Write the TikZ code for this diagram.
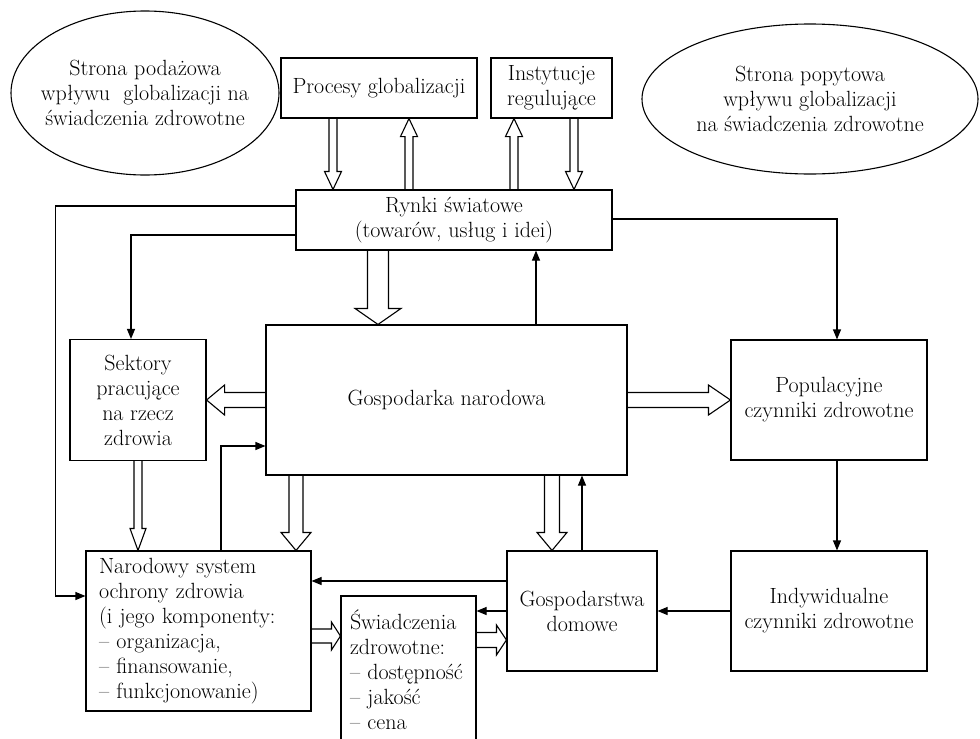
\documentclass[tikz,border=0pt]{standalone}
\usepackage{tikz}
\usetikzlibrary{positioning,calc,arrows.meta}

% hollow block arrow: from, to, shaft half width, head half width, head length
\newcommand{\fatarrow}[5]{%
	\coordinate (fa-s) at (#1);
	\coordinate (fa-t) at (#2);
	\coordinate (fa-b) at ($(fa-t)!#5!(fa-s)$);
	\draw[fat] ($(fa-s)!#3!90:(fa-t)$) -- ($(fa-b)!#3!90:(fa-t)$) -- ($(fa-b)!#4!90:(fa-t)$) -- (fa-t)
		-- ($(fa-b)!#4!-90:(fa-t)$) -- ($(fa-b)!#3!-90:(fa-t)$) -- ($(fa-s)!#3!-90:(fa-t)$);
}

\begin{document}
\begin{tikzpicture}[x=1pt,y=-1pt,on grid,
		font=\fontsize{22}{25}\selectfont,
		box/.style={draw,line width=1.1pt,align=center,inner sep=2pt},
		link/.style={line width=1.1pt,-{Triangle[length=10pt,width=8pt]}},
		fat/.style={line width=1.1pt,line join=miter}]
	\useasboundingbox (0,0) rectangle (980,739);
	
	\node[box,minimum width=361pt,minimum height=150pt] (gosp) at (446.5,400) {Gospodarka narodowa};
	\node[box,minimum width=316pt,minimum height=60pt] (rynki) [above right=180pt and 7.5pt of gosp] {Rynki światowe\\(towarów, usług i idei)};
	\node[box,minimum width=196pt,minimum height=60pt] (proc) [above left=132pt and 75pt of rynki] {Procesy globalizacji};
	\node[box,minimum width=121pt,minimum height=60pt] (inst) [right=172.5pt of proc] {Instytucje\\regulujące};
	\node[align=center] (podaz) [below left=5pt and 234pt of proc] {Strona podażowa\\wpływu~ globalizacji na\\świadczenia zdrowotne};
	\node[align=center] (popyt) [below right=11pt and 258.5pt of inst] {Strona popytowa\\wpływu globalizacji\\na świadczenia zdrowotne};
	\draw[line width=1.1pt] (podaz) ellipse [x radius=134pt,y radius=82pt];
	\draw[line width=1.1pt] (popyt) ellipse [x radius=168pt,y radius=75pt];
	\node[box,minimum width=136pt,minimum height=121pt] (sekt) [left=308.5pt of gosp] {Sektory\\pracujące\\na rzecz\\zdrowia};
	\node[box,minimum width=196pt,minimum height=120pt] (pop) [right=382.5pt of gosp] {Populacyjne\\czynniki zdrowotne};
	\node[box,align=left,text width=199pt,inner xsep=13pt,minimum height=160pt] (nar) [below left=231pt and 248pt of gosp] {Narodowy system\\ochrony zdrowia\\(i jego komponenty:\\-- organizacja,\\-- finansowanie,\\-- funkcjonowanie)};
	\node[box,minimum width=150pt,minimum height=120pt] (gdom) [below right=211pt and 135.5pt of gosp] {Gospodarstwa\\domowe};
	\node[box,minimum width=196pt,minimum height=120pt] (indy) [right=247pt of gdom] {Indywidualne\\czynniki zdrowotne};
	\node[box,align=left,text width=117pt,inner xsep=9pt,minimum height=148pt] (swi) [below right=39pt and 210pt of nar] {Świadczenia\\zdrowotne:\\-- dostępność\\-- jakość\\-- cena};
	
	% thin links
	\draw[link] ([yshift=14pt]rynki.west) -- ++(-240,0) |- ([yshift=35pt]nar.west);
	\draw[link] ([yshift=-15pt]rynki.west) -| ([xshift=-7pt]sekt.north);
	\draw[link] ([yshift=1pt]rynki.east) -| ([xshift=8pt]pop.north);
	\coordinate (g1) at ([xshift=89.5pt]gosp.north);
	\draw[link] (g1) -- (g1 |- rynki.south);
	\draw[link] ([xshift=22.5pt]nar.north) |- ([yshift=-46pt]gosp.west);
	\draw[link] (gdom.north) -- (gdom.north |- gosp.south);
	\coordinate (d1) at ([yshift=30pt]gdom.west);
	\draw[link] (d1) -- (d1 -| nar.east);
	\draw[link] (gdom.west) -- (gdom.west -| swi.east);
	\draw[link] ([xshift=8pt]pop.south) -- ([xshift=8pt]indy.north);
	\draw[link] (indy.west) -- (gdom.east);
	
	% block arrows
	\coordinate (p1) at ([xshift=-46pt]proc.south);
	\fatarrow{p1}{p1 |- rynki.north}{4pt}{8.5pt}{18pt}
	\coordinate (p2) at ([xshift=30pt]proc.south);
	\fatarrow{p2 |- rynki.north}{p2}{4pt}{8.5pt}{18pt}
	\coordinate (i1) at ([xshift=-37.5pt]inst.south);
	\fatarrow{i1 |- rynki.north}{i1}{4pt}{8.5pt}{18pt}
	\coordinate (i2) at ([xshift=22.5pt]inst.south);
	\fatarrow{i2}{i2 |- rynki.north}{4pt}{8.5pt}{18pt}
	\coordinate (r1) at ([xshift=-76pt]rynki.south);
	\fatarrow{r1}{r1 |- gosp.north}{10.5pt}{23pt}{16pt}
	\fatarrow{gosp.west}{gosp.west -| sekt.east}{7.5pt}{15pt}{18pt}
	\fatarrow{gosp.east}{gosp.east -| pop.west}{7.5pt}{15pt}{22pt}
	\fatarrow{sekt.south}{sekt.south |- nar.north}{4pt}{8pt}{22pt}
	\coordinate (g2) at ([xshift=-150.5pt]gosp.south);
	\fatarrow{g2}{g2 |- nar.north}{7pt}{15pt}{18pt}
	\coordinate (g3) at ([xshift=105.5pt]gosp.south);
	\fatarrow{g3}{g3 |- gdom.north}{7.5pt}{15pt}{18pt}
	\coordinate (n1) at ([yshift=-5pt]nar.east);
	\fatarrow{n1}{n1 -| swi.west}{7pt}{14pt}{9pt}
	\coordinate (s1) at ([yshift=30pt]swi.east);
	\fatarrow{s1}{s1 -| gdom.west}{7.5pt}{15pt}{10pt}
\end{tikzpicture}
\end{document}
